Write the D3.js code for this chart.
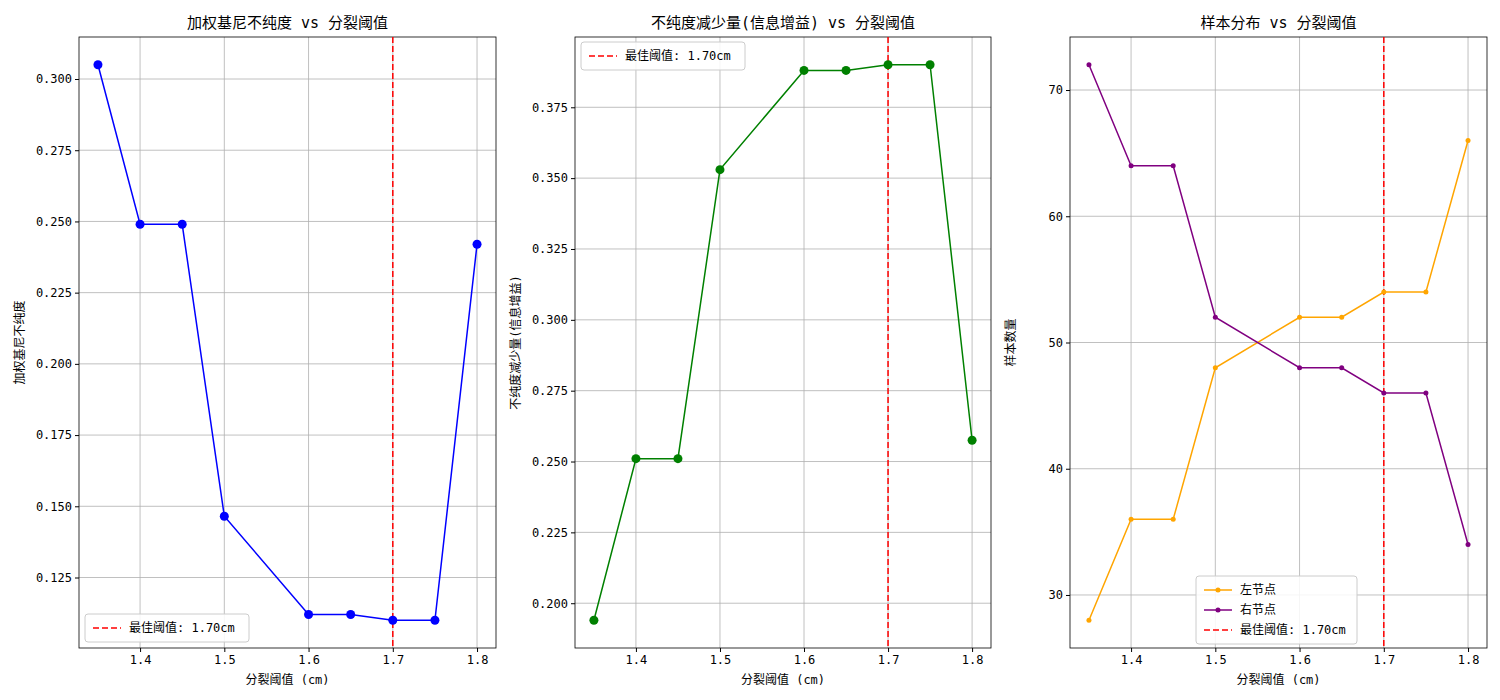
<!DOCTYPE html>
<html><head><meta charset="utf-8">
<script src="https://cdn.jsdelivr.net/npm/d3@7"></script>
<style>body{margin:0;background:#fff}text{font-family:"DejaVu Sans Mono","Noto Sans CJK SC",monospace}</style>
</head><body><svg id="c" width="1500" height="700"></svg>
<script>
const thresholds=[1.35,1.4,1.45,1.5,1.6,1.65,1.7,1.75,1.8];
const gini=[0.305,0.249,0.249,0.1465,0.112,0.112,0.110,0.110,0.242];
const gain=[0.194,0.251,0.251,0.353,0.388,0.388,0.390,0.390,0.2575];
const leftN=[28,36,36,48,52,52,54,54,66];
const rightN=[72,64,64,52,48,48,46,46,34];
const xTicks=[1.4,1.5,1.6,1.7,1.8];
const best=1.70;
const svg=d3.select("#c");
const plotTop=37,plotBot=648;
function margin(arr){const a=d3.min(arr),b=d3.max(arr),m=(b-a)*0.05;return [a-m,b+m];}
function panel(x0,x1,title,ylab,series,yTicks,fmt,legendPos){
  const g=svg.append("g");
  const x=d3.scaleLinear().domain(margin(thresholds)).range([x0,x1]);
  const all=series.flatMap(s=>s.v);
  const y=d3.scaleLinear().domain(margin(all)).range([plotBot,plotTop]);
  g.selectAll(".gx").data(xTicks).join("line").attr("x1",d=>x(d)).attr("x2",d=>x(d)).attr("y1",plotTop).attr("y2",plotBot).attr("stroke","#b0b0b0").attr("stroke-width",0.8);
  g.selectAll(".gy").data(yTicks).join("line").attr("y1",d=>y(d)).attr("y2",d=>y(d)).attr("x1",x0).attr("x2",x1).attr("stroke","#b0b0b0").attr("stroke-width",0.8);
  g.append("g").attr("transform",`translate(0,${plotBot})`).call(d3.axisBottom(x).tickValues(xTicks).tickFormat(d3.format(".1f")).tickSizeOuter(0).tickSize(4)).call(a=>a.selectAll("text").attr("font-size",12).attr("fill","#000"));
  g.append("g").attr("transform",`translate(${x0},0)`).call(d3.axisLeft(y).tickValues(yTicks).tickFormat(fmt).tickSizeOuter(0).tickSize(4)).call(a=>a.selectAll("text").attr("font-size",12).attr("fill","#000"));
  g.selectAll(".domain").remove();
  g.append("rect").attr("x",x0).attr("y",plotTop).attr("width",x1-x0).attr("height",plotBot-plotTop).attr("fill","none").attr("stroke","#000").attr("stroke-width",0.8);
  g.append("line").attr("x1",x(best)).attr("x2",x(best)).attr("y1",plotTop).attr("y2",plotBot).attr("stroke","red").attr("stroke-width",1.5).attr("stroke-dasharray","6,3");
  series.forEach(s=>{
    g.append("path").datum(s.v).attr("fill","none").attr("stroke",s.c).attr("stroke-width",1.5)
     .attr("d",d3.line().x((d,i)=>x(thresholds[i])).y(d=>y(d)));
    g.selectAll(null).data(s.v).join("circle").attr("cx",(d,i)=>x(thresholds[i])).attr("cy",d=>y(d)).attr("r",s.r).attr("fill",s.c);
  });
  g.append("text").attr("x",(x0+x1)/2).attr("y",28).attr("text-anchor","middle").attr("font-size",15).text(title);
  g.append("text").attr("x",(x0+x1)/2).attr("y",684).attr("text-anchor","middle").attr("font-size",12).text("分裂阈值 (cm)");
  g.append("text").attr("transform",`translate(${x0-55},${(plotTop+plotBot)/2}) rotate(-90)`).attr("text-anchor","middle").attr("font-size",12).text(ylab);
  const items=series.filter(s=>s.name).map(s=>({name:s.name,c:s.c,dash:false})).concat([{name:"最佳阈值: 1.70cm",c:"red",dash:true}]);
  const lw=legendPos.w,lh=items.length*20+8;
  const lx=legendPos.x,ly=legendPos.y;
  const lg=g.append("g");
  lg.append("rect").attr("x",lx).attr("y",ly).attr("width",lw).attr("height",lh).attr("rx",3).attr("fill","#fff").attr("fill-opacity",0.85).attr("stroke","#ccc");
  items.forEach((it,i)=>{
    const yy=ly+14+i*20;
    lg.append("line").attr("x1",lx+8).attr("x2",lx+36).attr("y1",yy).attr("y2",yy).attr("stroke",it.c).attr("stroke-width",1.5).attr("stroke-dasharray",it.dash?"6,3":null);
    if(!it.dash) lg.append("circle").attr("cx",lx+22).attr("cy",yy).attr("r",2.5).attr("fill",it.c);
    lg.append("text").attr("x",lx+44).attr("y",yy+4).attr("font-size",12).text(it.name);
  });
}
panel(79,496,"加权基尼不纯度 vs 分裂阈值","加权基尼不纯度",[{v:gini,c:"blue",r:4.5}],[0.125,0.15,0.175,0.2,0.225,0.25,0.275,0.3],d3.format(".3f"),{x:85,y:614,w:164});
panel(575,991,"不纯度减少量(信息增益) vs 分裂阈值","不纯度减少量(信息增益)",[{v:gain,c:"green",r:4.5}],[0.2,0.225,0.25,0.275,0.3,0.325,0.35,0.375],d3.format(".3f"),{x:581,y:42,w:164});
panel(1070,1487,"样本分布 vs 分裂阈值","样本数量",[{v:leftN,c:"orange",r:2.5,name:"左节点"},{v:rightN,c:"purple",r:2.5,name:"右节点"}],[30,40,50,60,70],d3.format("d"),{x:1196,y:576,w:161});
</script></body></html>
